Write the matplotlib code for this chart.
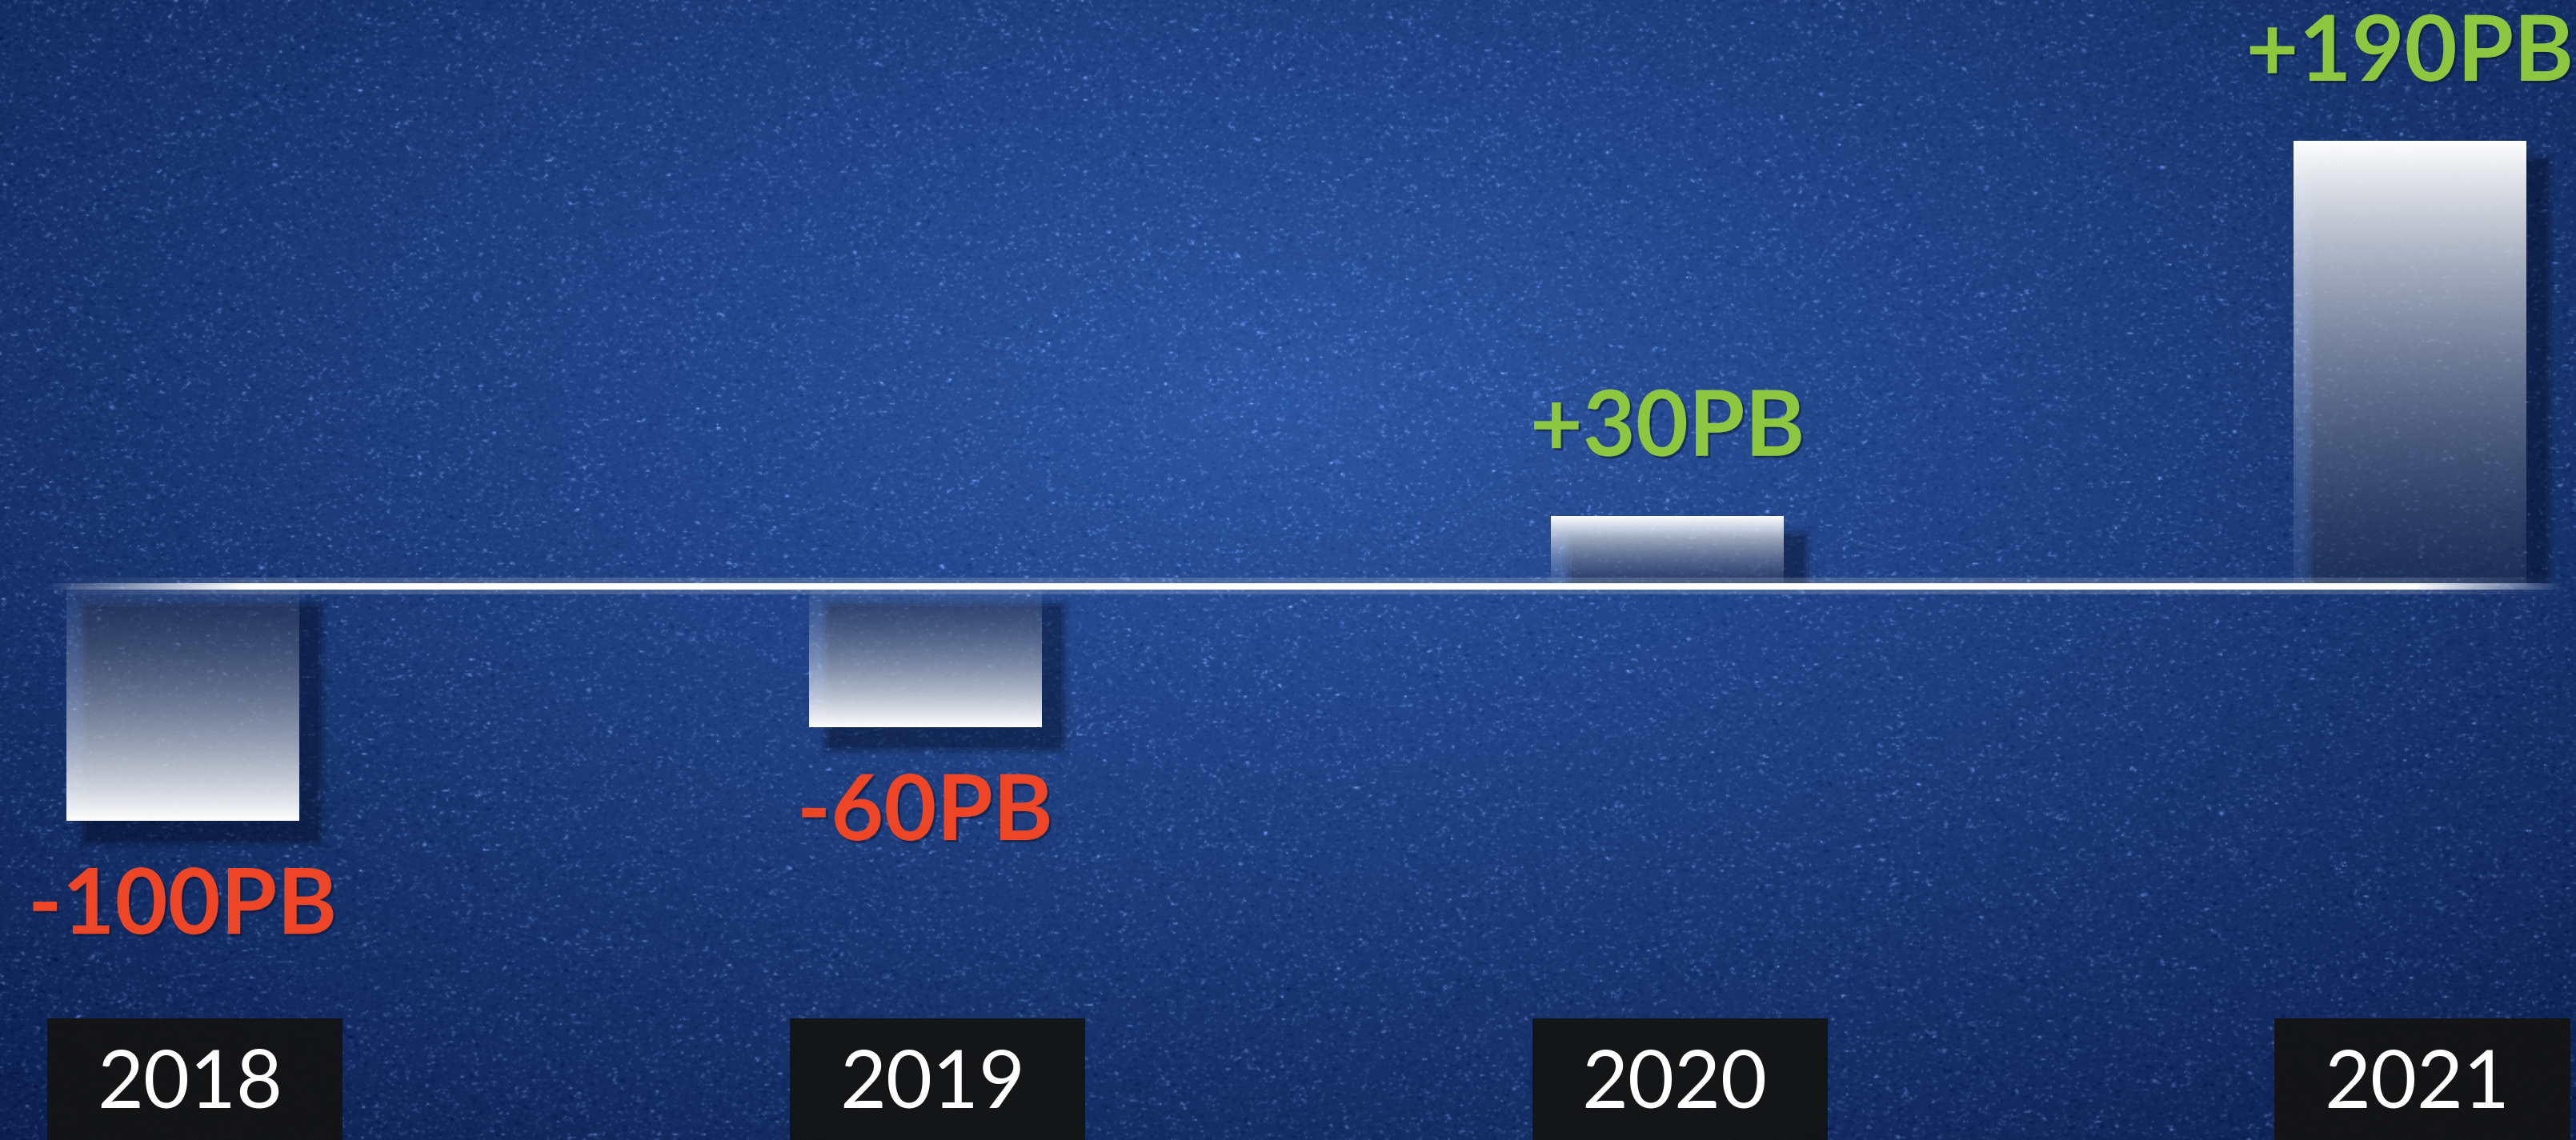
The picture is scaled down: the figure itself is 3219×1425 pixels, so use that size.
import numpy as np
import matplotlib.pyplot as plt
from matplotlib.patches import Rectangle
import matplotlib.patheffects as pe

# Data
years = ['2018', '2019', '2020', '2021']
changes = [-100, -60, 30, 190]
labels = ['-100PB', '-60PB', '+30PB', '+190PB']

# Colours
red = '#ee4527'
green = '#8dc63f'

fig = plt.figure(figsize=(32.19, 14.25), dpi=100)
ax = fig.add_axes([0, 0, 1, 1])
xlim = (-0.2458, 3.224)
ylim = (-236.2, 250.2)

# textured blue background (radial gradient + grain)
H, W = 713, 1610
yy, xx = np.mgrid[0:1:H * 1j, 0:1:W * 1j]
d = np.sqrt(((xx - 0.5) / 0.75) ** 2 + ((yy - 0.35) / 0.85) ** 2)
t = np.clip(d, 0, 1)[..., None]
center = np.array([0.18, 0.34, 0.64])
edge = np.array([0.05, 0.13, 0.32])
rgb = center * (1 - t) + edge * t
rng = np.random.default_rng(3)
n = rng.normal(0, 1, (H, W))
n = (n + np.roll(n, 1, 0) + np.roll(n, 1, 1) + np.roll(n, -1, 1)) / 2
speck = np.clip(n - 0.6, 0, None) ** 1.5 * 0.08
rgb = rgb + speck[..., None] * np.array([0.7, 0.8, 1.0]) - np.clip(-n - 0.8, 0, None)[..., None] * 0.025
ax.imshow(np.clip(rgb, 0, 1), extent=[xlim[0], xlim[1], ylim[0], ylim[1]],
          aspect='auto', origin='upper', zorder=0, interpolation='bilinear')

# bars (drawn invisible, then filled with gradients)
x = np.arange(len(years))
bars = ax.bar(x, changes, width=0.3126, color='none', edgecolor='none', zorder=3)

g = np.linspace(0, 1, 256)
for rect, v, lab in zip(bars, changes, labels):
    x0, w = rect.get_x(), rect.get_width()
    y0, h = rect.get_y(), rect.get_height()
    ybot, ytop = min(y0, y0 + h), max(y0, y0 + h)

    # soft shadow
    dx, dy = 0.027, 8.5
    for k, a in enumerate([0.18, 0.14, 0.10, 0.07]):
        pad_x, pad_y = 0.004 * k, 1.2 * k
        sb = ybot - dy - pad_y
        st = ytop - dy + pad_y
        if v > 0:
            sb = max(sb, 1.5)
        ax.add_patch(Rectangle((x0 + dx - pad_x, sb), w + 2 * pad_x, st - sb,
                               facecolor='#030a1c', edgecolor='none', alpha=a, zorder=2))

    # gradient: faint near the baseline, white at the far end
    alpha = 0.12 + 0.88 * g ** 1.3
    col = np.array([0.55, 0.62, 0.75])[None, :] * (1 - g[:, None] ** 0.7) + g[:, None] ** 0.7
    arr = np.concatenate([col, alpha[:, None]], axis=1)[:, None, :]
    if v > 0:
        arr = arr[::-1]
    ax.imshow(arr, extent=[x0, x0 + w, ybot, ytop], aspect='auto', origin='upper',
              zorder=3, interpolation='bilinear')

    # value label
    off = 78 if v > 0 else -78
    ax.annotate(lab, xy=(rect.get_x() + w / 2, v),
                xytext=(0, off), textcoords='offset points', ha='center', va='center',
                fontsize=82, fontweight='bold', family='Lato',
                color=green if v > 0 else red, zorder=6,
                path_effects=[pe.withSimplePatchShadow(offset=(2, -2), shadow_rgbFace='#081530', alpha=0.5)])

# zero line with faded ends
N = 600
lx = np.linspace(0, 1, N)
fade = np.clip(np.minimum(lx / 0.08, (1 - lx) / 0.06), 0, 1)
line = np.ones((1, N, 4))
line[0, :, 3] = fade
glow = np.ones((1, N, 4))
glow[0, :, 3] = fade * 0.18
ax.imshow(glow, extent=[-0.19, 3.21, -3.5, 3.5], aspect='auto', zorder=4, interpolation='bilinear')
ax.imshow(line, extent=[-0.19, 3.21, -1.3, 1.3], aspect='auto', zorder=4, interpolation='bilinear')

# year boxes
for i, yr in enumerate(years):
    ax.add_patch(Rectangle((i + 0.017 - 0.199, -260), 0.398, 260 - 184.3,
                           facecolor='#141414', edgecolor='none', alpha=0.96, zorder=5))
    ax.text(i + 0.01, -212.6, yr, ha='center', va='center', fontsize=72,
            color='white', family='Lato', fontweight='normal', zorder=6)

ax.set_xlim(*xlim)
ax.set_ylim(*ylim)
ax.axis('off')

fig.savefig('out.png', dpi=100)
